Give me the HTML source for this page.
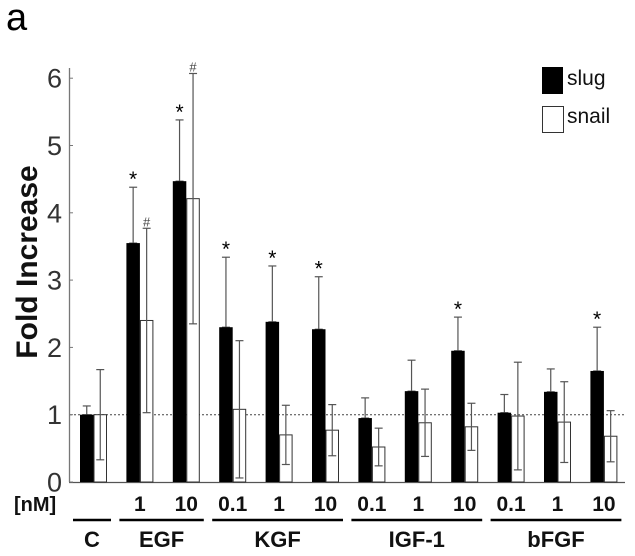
<!DOCTYPE html>
<html><head><meta charset="utf-8"><style>
html,body{margin:0;padding:0;background:#fff;}
svg{display:block;font-family:"Liberation Sans",Arial,sans-serif;}
</style></head><body>
<svg id="chart" width="635" height="556" viewBox="0 0 635 556">
<text x="6" y="30" font-size="38" fill="#000">a</text>
<text transform="translate(37,262) rotate(-90)" text-anchor="middle" font-size="30" font-weight="bold" fill="#111">Fold Increase</text>
<g id="axes"></g>
<g id="bars"></g>
<g>
<rect x="542" y="67" width="21" height="27" fill="#000"/>
<text x="567" y="85" font-size="21" fill="#111">slug</text>
<rect x="542.5" y="106.5" width="21" height="26" fill="#fff" stroke="#333"/>
<text x="567" y="123" font-size="21" fill="#111">snail</text>
</g>
<text x="14" y="511" font-size="20" font-weight="bold" fill="#111">[nM]</text>
<g id="xlabels"></g>
</svg>
<script>
const categories = ["C","EGF 1","EGF 10","KGF 0.1","KGF 1","KGF 10","IGF-1 0.1","IGF-1 1","IGF-1 10","bFGF 0.1","bFGF 1","bFGF 10"];
const doseLabels = ["","1","10","0.1","1","10","0.1","1","10","0.1","1","10"];
const slugValues = [1.0,3.55,4.47,2.3,2.38,2.27,0.95,1.35,1.95,1.03,1.34,1.65];
const slugErr = [0.13,0.83,0.91,1.04,0.83,0.78,0.30,0.46,0.50,0.27,0.34,0.65];
const snailValues = [1.0,2.4,4.21,1.08,0.7,0.77,0.52,0.88,0.82,0.98,0.89,0.68];
const snailErr = [0.67,1.37,1.86,1.02,0.44,0.38,0.28,0.5,0.35,0.8,0.6,0.38];
const slugMarks = ["","*","*","*","*","*","","","*","","","*"];
const snailMarks = ["","#","#","","","","","","","","",""];
const yTicks = [0,1,2,3,4,5,6];
const groups = [{name:"C",from:0,to:0},{name:"EGF",from:1,to:2},{name:"KGF",from:3,to:5},{name:"IGF-1",from:6,to:8},{name:"bFGF",from:9,to:11}];

const NS="http://www.w3.org/2000/svg";
const y0=482, unit=67.3, x0=80, pitch=46.4, bw=13.5;
const yS=v=>y0-v*unit;
const xS=i=>x0+i*pitch;
function mk(tag,attrs,parent){const e=document.createElementNS(NS,tag);for(const k in attrs)e.setAttribute(k,attrs[k]);parent.appendChild(e);return e;}
const axes=document.getElementById('axes'), bars=document.getElementById('bars'), xl=document.getElementById('xlabels');

let a=mk('line',{x1:69.5,y1:68,x2:69.5,y2:y0,stroke:'#777','stroke-width':1.3},axes);


let b=mk('line',{x1:69,y1:y0+0.5,x2:625,y2:y0+0.5,stroke:'#555','stroke-width':1.3},axes);


let ref=mk('line',{x1:70,y1:yS(1),x2:625,y2:yS(1),stroke:'#444','stroke-width':1,'stroke-dasharray':'2,2'},axes);


yTicks.forEach(t=>{
  let tk=mk('line',{x1:69,y1:yS(t),x2:73,y2:yS(t),stroke:'#777'},axes);
  
  
  let tx=mk('text',{x:62,y:yS(t)+9.5,'text-anchor':'end','font-size':27,fill:'#333'},axes);
  tx.textContent=t;
  
  
});
function errBar(cx,top,bot,name){
  const g=mk('g',{stroke:'#555','stroke-width':1.2},bars);
  
  
  mk('line',{x1:cx,y1:top,x2:cx,y2:bot},g);
  mk('line',{x1:cx-4,y1:top,x2:cx+4,y2:top},g);
  mk('line',{x1:cx-4,y1:bot,x2:cx+4,y2:bot},g);
}
categories.forEach((c,i)=>{
  const xs=xS(i), xn=xs+bw;
  errBar(xs+bw/2,yS(slugValues[i]+slugErr[i]),yS(slugValues[i]),'slug-error-bar');
  let r=mk('rect',{x:xs,y:yS(slugValues[i]),width:bw,height:slugValues[i]*unit,fill:'#000'},bars);
  
  
  let s=mk('rect',{x:xn+0.5,y:yS(snailValues[i]),width:bw-1,height:snailValues[i]*unit,fill:'#fff',stroke:'#333','stroke-width':1},bars);
  
  
  errBar(xn+bw/2,yS(snailValues[i]+snailErr[i]),yS(Math.max(0,snailValues[i]-snailErr[i])),'snail-error-bar');
  if(slugMarks[i]){let m=mk('text',{x:xs+bw/2,y:yS(slugValues[i]+slugErr[i])-1,'text-anchor':'middle','font-size':21,fill:'#000'},bars);m.textContent=slugMarks[i];
    
    }
  if(snailMarks[i]){let m=mk('text',{x:xn+bw/2,y:yS(snailValues[i]+snailErr[i])-2,'text-anchor':'middle','font-size':13,fill:'#444'},bars);m.textContent=snailMarks[i];
    
    }
  if(doseLabels[i]){let d=mk('text',{x:xs+bw,y:511,'text-anchor':'middle','font-size':21,'font-weight':'bold',fill:'#111'},xl);d.textContent=doseLabels[i];
    
    }
});
groups.forEach(g=>{
  const l=xS(g.from)-7, r=xS(g.to)+2*bw+4;
  let ln=mk('line',{x1:l,y1:520,x2:r,y2:520,stroke:'#000','stroke-width':2.5},xl);
  
  
  let t=mk('text',{x:(l+r)/2,y:547,'text-anchor':'middle','font-size':22,'font-weight':'bold',fill:'#111'},xl);
  t.textContent=g.name;
  
  
});
</script>
</body></html>
